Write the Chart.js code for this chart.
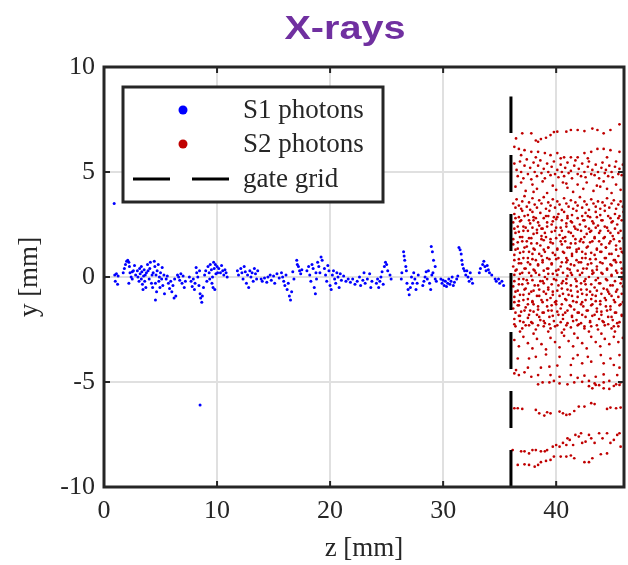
<!DOCTYPE html>
<html>
<head>
<meta charset="utf-8">
<script src="https://cdn.jsdelivr.net/npm/chart.js@4.4.1/dist/chart.umd.min.js"></script>
<style>
  html, body { margin: 0; padding: 0; background: #fff; }
  #wrap { position: relative; width: 628px; height: 565px; }
  #title {
    position: absolute; left: 245px; width: 200px; top: 9px;
    text-align: center; line-height: 1;
    font: bold 33px "Liberation Sans", Arial, sans-serif; color: #7030A0;
    transform: scaleX(1.2);
  }
</style>
</head>
<body>
<div id="wrap">
  <canvas id="chart" width="628" height="565"></canvas>
  <div id="title">X-rays</div>
</div>
<script>
// axis ticks
const xTicks = [0, 10, 20, 30, 40];
const yTicks = [-10, -5, 0, 5, 10];

// S1 photons (z, y)
const s1Points = [
  [0.05,0.0],[0.95,0.1],[1.0,-0.2],[1.1,0.15],[1.2,-0.35],[1.25,0.05],[0.9,3.5],
  [1.7,0.2],[1.8,0.4],[1.9,0.6],[2.0,0.75],[2.1,0.8],[2.2,0.7],[2.25,0.5],[2.3,0.2],[2.4,0.0],[2.5,-0.1],[2.6,0.3],[2.7,0.55],[2.8,0.1],[2.2,-0.3],[2.5,0.25],
  [2.95,0.3],[3.0,0.0],[3.1,-0.2],[3.15,0.4],[3.2,0.15],[3.3,-0.1],[3.35,0.25],[3.4,-0.35],[3.5,0.05],[3.55,0.35],[3.6,-0.2],[3.65,0.1],[3.7,-0.5],[3.75,0.2],[3.3,0.5],[3.45,-0.6],
  [3.85,0.6],[3.9,0.3],[4.0,-0.1],[4.05,0.4],[4.1,0.7],[4.2,-0.3],[4.25,0.1],[4.3,-0.5],[4.35,0.2],
  [4.45,0.75],[4.5,0.5],[4.55,-0.3],[4.6,0.1],[4.55,-1.1],[4.65,-0.7],[4.7,0.3],[4.8,0.6],[4.85,-0.2],[4.9,0.0],[4.95,-0.5],[5.0,0.2],[5.1,-0.1],[5.15,0.45],[5.2,-0.4],[5.3,0.1],[5.35,-0.8],
  [5.5,-0.1],[5.6,0.05],[5.7,-0.3],[5.8,-0.55],[5.9,-0.2],[6.0,-0.7],[6.1,-0.4],[6.2,-1.0],[6.25,-0.1],
  [6.35,-0.9],[6.5,0.1],[6.6,0.0],[6.7,-0.15],[6.8,0.15],[6.9,-0.3],[7.0,0.05],[7.1,-0.5],[7.2,-0.2],
  [7.55,0.0],[7.7,-0.2],[7.8,-0.45],[7.9,-0.1],[8.0,-0.6],[8.05,-0.3],
  [8.15,0.45],[8.2,0.2],[8.3,0.0],[8.4,-0.4],[8.5,-0.8],[8.55,-1.0],[8.65,-1.2],[8.7,-0.9],[8.8,-0.5],[8.45,0.3],[8.5,-6.1],
  [8.9,0.1],[9.0,0.3],[9.1,-0.2],[9.2,0.5],[9.3,0.2],[9.35,-0.1],[9.4,0.6],[9.5,0.35],[9.55,-0.3],[9.6,0.0],[9.7,0.7],[9.75,0.4],[9.8,-0.6],[9.9,0.15],[10.0,0.5],[10.05,0.2],[9.65,-0.5],[9.85,0.6],
  [10.15,0.4],[10.3,0.2],[10.4,0.55],[10.5,0.3],[10.6,0.1],[10.7,0.35],[10.8,0.2],[10.9,0.0],
  [11.8,0.3],[11.9,0.1],[12.1,0.4],[12.2,0.2],[12.3,-0.1],[12.4,0.5],[12.5,0.25],[12.6,-0.3],[12.7,0.1],[12.8,-0.5],[12.9,0.3],[13.0,0.0],[13.1,0.2],[13.2,-0.2],[13.3,0.4],[13.4,0.15],[13.5,-0.1],[13.6,0.3],
  [13.9,-0.1],[14.0,-0.2],[14.2,-0.05],[14.4,-0.25],[14.5,0.0],[14.7,0.1],[14.8,-0.15],[15.0,0.05],[15.1,-0.3],[15.3,0.15],[15.5,-0.05],
  [15.7,0.2],[15.8,0.0],[15.9,-0.2],[16.0,-0.4],[16.1,0.1],[16.2,-0.6],[16.3,-0.3],[16.4,-0.9],[16.5,-1.1],[16.6,-0.7],[16.7,0.25],[16.8,-0.1],
  [17.05,0.8],[17.1,0.6],[17.2,0.5],[17.3,0.3],[17.4,0.15],[17.5,0.35],
  [17.95,0.3],[18.1,0.5],[18.2,0.1],[18.3,-0.2],[18.4,0.6],[18.5,0.4],[18.6,-0.5],[18.7,-0.8],[18.75,0.2],[18.9,0.7],[19.0,0.5],[19.1,0.2],[19.2,0.95],[19.3,0.8],[18.8,-0.1],
  [19.5,0.4],[19.6,0.1],[19.7,-0.2],[19.8,0.55],[19.9,0.3],[20.0,-0.4],[20.1,-0.6],[20.2,0.1],[20.3,0.3],[20.4,-0.1],[20.5,-0.3],[20.6,0.2],[20.7,0.0],[20.8,-0.5],[20.9,0.15],[21.0,-0.15],[21.2,0.05],[21.4,-0.2],
  [21.6,-0.1],[21.8,-0.25],[22.0,-0.1],[22.2,-0.35],[22.4,-0.2],[22.6,0.0],[22.7,-0.4],[22.9,-0.15],[23.0,0.2],[23.1,-0.3],[23.3,-0.1],[23.5,0.15],[23.6,-0.5],[23.7,-0.2],
  [24.1,-0.3],[24.2,-0.1],[24.3,-0.5],[24.4,-0.2],[24.5,0.0],[24.6,0.25],[24.7,-0.35],[24.8,0.5],[24.9,0.7],[25.0,0.6],[25.1,0.3],[25.3,0.1],[25.4,-0.1],
  [26.3,-0.1],[26.35,0.2],[26.5,1.2],[26.55,1.0],[26.6,0.8],[26.7,0.5],[26.75,0.3],[26.8,-0.3],[26.9,-0.6],[27.0,-0.85],[27.1,-0.5],[27.2,0.0],[27.3,-0.3],[27.4,0.2],[27.5,-0.1],[27.6,-0.6],[27.7,-0.3],[27.8,0.1],
  [28.2,-0.4],[28.3,-0.2],[28.4,0.0],[28.5,0.25],[28.6,-0.1],[28.7,0.3],[28.8,-0.3],[28.9,-0.6],[29.0,0.1],[29.1,0.2],[29.3,-0.1],[29.4,-0.2],
  [28.95,1.45],[29.05,1.2],[29.15,0.8],[29.3,0.5],
  [29.8,-0.1],[29.9,-0.3],[30.0,-0.15],[30.1,-0.4],[30.2,-0.2],[30.3,-0.45],[30.4,-0.3],[30.5,-0.1],[30.6,-0.35],[30.7,-0.2],[30.8,0.0],[30.9,-0.4],[31.0,-0.25],[31.2,-0.1],[31.3,0.05],
  [31.4,1.4],[31.5,1.3],[31.6,1.1],[31.65,0.8],[31.7,0.6],[31.8,0.4],[31.9,0.3],[32.0,0.1],[32.1,0.3],[32.2,0.0],[32.3,-0.2],[32.4,0.2],[32.5,-0.1],[32.6,-0.3],
  [33.2,0.2],[33.3,0.4],[33.5,0.6],[33.6,0.75],[33.7,0.5],[33.8,0.3],[33.9,0.55],[34.0,0.35],[34.1,0.2],[34.3,0.1],
  [34.6,-0.1],[34.7,-0.2],[34.9,-0.1],[35.0,-0.3],[35.2,-0.2],[35.35,-0.4]
];

// S2 photons, by band from top to bottom
const s2Top = [
  [36.45,6.6],[37.0,6.84],[37.8,6.84],[38.2,6.5],[38.4,6.44],[38.65,6.57],[39.1,6.63],[39.5,6.76],[39.8,6.9],[40.1,6.92],[40.9,6.92],[41.3,7.0],[41.9,7.0],[42.5,6.95],[43.2,7.07],[43.65,7.0],[44.2,6.84],[44.8,7.0],[45.6,7.27]
];
const s2Band6 = [
  [36.3,6.2],[36.7,6.1],[36.9,5.8],[37.2,6.04],[37.8,5.96],[38.2,5.7],[38.4,5.96],[39.0,5.9],[39.5,5.8],[40.1,5.9],[40.4,5.65],[40.7,5.7],[41.3,5.7],[41.9,5.7],[42.5,5.9],[42.8,5.65],[43.1,5.96],[43.65,6.1],[44.2,6.1],[44.5,5.7],[44.8,6.04],[45.6,5.96]
];
const s2Band5 = [
  [36.3,5.4],[36.5,5.1],[36.6,4.8],[36.8,5.5],[36.9,5.0],[37.1,4.7],[37.2,5.3],[37.4,5.6],[37.5,4.9],[37.7,5.2],[37.8,4.65],[38.0,5.45],[38.1,5.0],[38.3,4.8],[38.4,5.3],[38.6,5.55],[38.7,4.95],[38.9,5.15],[39.0,4.7],[39.2,5.4],[39.3,5.0],[39.5,4.85],[39.6,5.25],[39.8,5.5],[39.9,4.9],[40.1,5.1],[40.2,4.75],[40.4,5.35],[40.5,5.0],[40.7,4.8],[40.8,5.2],[41.0,5.45],[41.1,4.95],[41.3,5.05],[41.4,4.7],[41.6,5.3],[41.7,5.55],[41.9,4.9],[42.0,5.15],[42.2,4.8],[42.3,5.4],[42.5,5.0],[42.6,4.75],[42.8,5.25],[42.9,5.5],[43.1,4.9],[43.2,5.1],[43.4,4.85],[43.5,5.35],[43.7,5.0],[43.8,4.7],[44.0,5.2],[44.1,5.45],[44.3,4.95],[44.4,5.1],[44.6,4.8],[44.7,5.3],[44.9,5.0],[45.0,4.75],[45.2,5.25],[45.3,5.5],[45.5,4.9],[45.6,5.15],[45.8,4.85],[45.9,5.35]
];
const s2Band4 = [
  [36.4,4.3],[36.9,4.5],[37.3,4.1],[37.9,4.4],[38.3,4.2],[38.8,4.55],[39.2,4.0],[39.7,4.35],[40.0,4.15],[40.6,4.5],[41.0,4.25],[41.5,4.05],[41.9,4.4],[42.4,4.2],[42.7,4.5],[43.3,4.1],[43.6,4.35],[44.2,4.55],[44.5,4.2],[44.9,4.0],[45.3,4.4],[45.7,4.15],[38.0,4.05],[40.9,4.45],[43.9,4.3]
];
const s2Band3 = [
  [36.2,3.5],[36.4,3.3],[36.5,3.7],[36.7,3.4],[36.9,3.25],[37.0,3.6],[37.2,3.85],[37.4,3.35],[37.6,3.55],[37.7,3.2],[37.9,3.75],[38.1,3.45],[38.3,3.3],[38.5,3.65],[38.7,3.5],[38.9,3.8],[39.1,3.25],[39.3,3.55],[39.5,3.4],[39.7,3.7],[39.9,3.3],[40.1,3.6],[40.3,3.45],[40.5,3.2],[40.7,3.75],[40.9,3.5],[41.1,3.35],[41.3,3.65],[41.5,3.25],[41.7,3.55],[41.9,3.4],[42.1,3.8],[42.3,3.3],[42.5,3.6],[42.7,3.45],[42.9,3.2],[43.1,3.7],[43.3,3.5],[43.5,3.35],[43.7,3.6],[43.9,3.25],[44.1,3.55],[44.3,3.4],[44.5,3.75],[44.7,3.3],[44.9,3.5],[45.1,3.65],[45.3,3.25],[45.5,3.45],[45.7,3.6],[45.9,3.35]
];
const s2Core = [
  [36.3,3.0],[36.7,2.85],[37.0,3.15],[37.5,2.95],[37.9,3.1],[38.2,2.8],[38.6,3.05],[39.1,2.9],[39.4,3.15],[39.8,2.85],[40.2,3.0],[40.7,3.1],[41.0,2.8],[41.4,2.95],[41.8,3.15],[42.3,2.9],[42.6,3.05],[43.0,2.85],[43.5,3.1],[43.9,2.95],[44.3,3.15],[44.8,2.8],[45.2,3.0],[45.6,2.9],[45.95,3.1],
  [36.4,2.8],[36.8,2.65],[37.2,2.9],[37.6,2.7],[38.0,2.85],[38.4,2.6],[38.9,2.8],[39.3,2.9],[39.7,2.65],[40.1,2.85],[40.5,2.7],[41.0,2.9],[41.4,2.6],[41.9,2.8],[42.4,2.7],[42.8,2.9],[43.2,2.65],[43.6,2.85],[44.1,2.7],[44.6,2.9],[45.0,2.65],[45.5,2.8],
  [36.2,2.6],[36.6,2.4],[36.9,2.7],[37.3,2.35],[37.7,2.55],[38.0,2.7],[38.5,2.45],[38.8,2.3],[39.2,2.6],[39.6,2.5],[40.0,2.75],[40.4,2.35],[40.9,2.55],[41.3,2.65],[41.6,2.4],[42.1,2.5],[42.5,2.7],[42.9,2.3],[43.3,2.55],[43.7,2.45],[44.0,2.7],[44.5,2.35],[44.9,2.6],[45.4,2.5],[45.8,2.7],
  [36.3,2.3],[36.7,2.15],[37.1,2.4],[37.5,2.2],[37.9,2.35],[38.3,2.1],[38.7,2.3],[39.2,2.4],[39.6,2.15],[40.0,2.35],[40.5,2.2],[40.9,2.4],[41.3,2.1],[41.7,2.3],[42.2,2.2],[42.6,2.4],[43.0,2.15],[43.5,2.35],[43.9,2.2],[44.3,2.4],[44.8,2.1],[45.2,2.3],[45.7,2.2],
  [36.4,2.1],[36.8,1.9],[37.1,2.2],[37.6,1.85],[38.0,2.05],[38.3,2.25],[38.7,1.95],[39.0,2.1],[39.5,1.8],[39.9,2.2],[40.3,2.0],[40.6,1.85],[41.1,2.15],[41.5,1.95],[41.9,2.25],[42.2,1.8],[42.7,2.05],[43.1,2.2],[43.4,1.9],[43.8,2.1],[44.2,1.85],[44.6,2.2],[45.0,1.95],[45.5,2.1],[45.9,1.85],
  [36.2,1.8],[36.6,1.65],[37.0,1.9],[37.4,1.7],[37.8,1.85],[38.3,1.6],[38.7,1.8],[39.1,1.9],[39.5,1.65],[40.0,1.85],[40.4,1.7],[40.8,1.9],[41.3,1.6],[41.7,1.8],[42.1,1.7],[42.5,1.9],[43.0,1.65],[43.4,1.85],[43.8,1.7],[44.3,1.9],[44.7,1.6],[45.1,1.8],[45.6,1.7],
  [36.2,1.55],[36.6,1.35],[37.0,1.7],[37.4,1.45],[37.8,1.6],[38.1,1.3],[38.6,1.5],[38.9,1.75],[39.3,1.4],[39.7,1.6],[40.1,1.3],[40.5,1.55],[40.8,1.7],[41.2,1.4],[41.7,1.6],[42.0,1.35],[42.4,1.65],[42.8,1.45],[43.2,1.7],[43.6,1.3],[44.0,1.55],[44.4,1.4],[44.8,1.7],[45.3,1.5],[45.7,1.35],
  [36.4,1.3],[36.8,1.15],[37.2,1.4],[37.6,1.2],[38.0,1.35],[38.5,1.1],[38.9,1.3],[39.3,1.4],[39.7,1.15],[40.1,1.35],[40.6,1.2],[41.0,1.4],[41.4,1.1],[41.8,1.3],[42.3,1.2],[42.7,1.4],[43.1,1.15],[43.6,1.35],[44.0,1.2],[44.4,1.4],[44.9,1.1],[45.3,1.3],[45.8,1.2],
  [36.3,1.05],[36.7,0.85],[37.1,1.2],[37.5,0.9],[37.9,1.1],[38.2,0.8],[38.7,1.0],[39.0,1.2],[39.4,0.85],[39.9,1.05],[40.2,0.9],[40.7,1.15],[41.0,0.8],[41.4,1.0],[41.8,1.2],[42.3,0.9],[42.6,1.1],[43.0,0.85],[43.4,1.05],[43.9,1.2],[44.3,0.9],[44.7,1.1],[45.1,0.8],[45.5,1.0],[45.9,1.15],
  [36.3,0.8],[36.7,0.65],[37.1,0.9],[37.5,0.7],[37.9,0.85],[38.4,0.6],[38.8,0.8],[39.2,0.9],[39.6,0.65],[40.0,0.85],[40.5,0.7],[40.9,0.9],[41.3,0.6],[41.8,0.8],[42.2,0.7],[42.6,0.9],[43.1,0.65],[43.5,0.85],[43.9,0.7],[44.4,0.9],[44.8,0.6],[45.2,0.8],[45.7,0.7],
  [36.2,0.5],[36.5,0.35],[36.9,0.65],[37.3,0.4],[37.7,0.6],[38.1,0.3],[38.4,0.55],[38.8,0.7],[39.2,0.4],[39.6,0.6],[40.0,0.3],[40.4,0.5],[40.9,0.7],[41.2,0.35],[41.6,0.55],[42.0,0.7],[42.4,0.4],[42.8,0.6],[43.2,0.3],[43.6,0.5],[44.1,0.65],[44.5,0.35],[44.9,0.55],[45.3,0.7],[45.8,0.4],
  [36.4,0.3],[36.8,0.15],[37.2,0.4],[37.6,0.2],[38.0,0.35],[38.5,0.1],[38.9,0.3],[39.3,0.4],[39.7,0.15],[40.2,0.35],[40.6,0.2],[41.0,0.4],[41.4,0.1],[41.9,0.3],[42.3,0.2],[42.7,0.4],[43.2,0.15],[43.6,0.35],[44.0,0.2],[44.5,0.4],[44.9,0.1],[45.3,0.3],[45.8,0.2],
  [36.3,0.1],[36.7,-0.1],[37.0,0.2],[37.4,-0.15],[37.8,0.05],[38.2,0.2],[38.6,-0.2],[39.0,0.0],[39.3,0.15],[39.8,-0.1],[40.1,0.1],[40.6,-0.2],[41.0,0.05],[41.3,0.2],[41.7,-0.1],[42.1,0.1],[42.5,-0.2],[42.9,0.0],[43.3,0.2],[43.7,-0.05],[44.1,0.15],[44.5,-0.15],[44.9,0.05],[45.4,0.2],[45.8,-0.1],
  [36.3,-0.2],[36.7,-0.35],[37.1,-0.1],[37.5,-0.3],[37.9,-0.15],[38.4,-0.4],[38.8,-0.2],[39.2,-0.1],[39.6,-0.35],[40.0,-0.15],[40.5,-0.3],[40.9,-0.1],[41.3,-0.4],[41.8,-0.2],[42.2,-0.3],[42.6,-0.1],[43.1,-0.35],[43.5,-0.15],[43.9,-0.3],[44.4,-0.1],[44.8,-0.4],[45.2,-0.2],[45.7,-0.3],
  [36.2,-0.45],[36.6,-0.65],[37.0,-0.35],[37.3,-0.55],[37.8,-0.7],[38.1,-0.4],[38.5,-0.6],[38.9,-0.3],[39.3,-0.5],[39.7,-0.7],[40.2,-0.4],[40.5,-0.55],[40.9,-0.3],[41.3,-0.65],[41.8,-0.45],[42.2,-0.6],[42.6,-0.35],[43.0,-0.7],[43.4,-0.5],[43.8,-0.3],[44.2,-0.55],[44.6,-0.7],[45.0,-0.4],[45.4,-0.6],[45.9,-0.45],
  [36.4,-0.7],[36.8,-0.85],[37.2,-0.6],[37.6,-0.8],[38.0,-0.65],[38.5,-0.9],[38.9,-0.7],[39.3,-0.6],[39.7,-0.85],[40.1,-0.65],[40.6,-0.8],[41.0,-0.6],[41.4,-0.9],[41.9,-0.7],[42.3,-0.8],[42.7,-0.6],[43.2,-0.85],[43.6,-0.65],[44.0,-0.8],[44.5,-0.6],[44.9,-0.9],[45.3,-0.7],[45.8,-0.8],
  [36.3,-0.95],[36.7,-1.15],[37.1,-0.85],[37.5,-1.05],[37.9,-1.2],[38.3,-0.9],[38.7,-1.1],[39.1,-0.8],[39.5,-1.0],[39.9,-1.2],[40.3,-0.9],[40.8,-1.05],[41.1,-0.85],[41.5,-1.15],[41.9,-0.95],[42.3,-1.2],[42.7,-0.85],[43.1,-1.05],[43.5,-0.9],[43.9,-1.15],[44.3,-1.0],[44.7,-0.8],[45.1,-1.1],[45.5,-0.95],[45.9,-1.2],
  [36.3,-1.2],[36.7,-1.35],[37.1,-1.1],[37.5,-1.3],[37.9,-1.15],[38.4,-1.4],[38.8,-1.2],[39.2,-1.1],[39.6,-1.35],[40.0,-1.15],[40.5,-1.3],[40.9,-1.1],[41.3,-1.4],[41.8,-1.2],[42.2,-1.3],[42.6,-1.1],[43.1,-1.35],[43.5,-1.15],[43.9,-1.3],[44.4,-1.1],[44.8,-1.4],[45.2,-1.2],[45.7,-1.3],
  [36.2,-1.5],[36.6,-1.35],[36.9,-1.65],[37.3,-1.45],[37.7,-1.6],[38.0,-1.3],[38.4,-1.55],[38.8,-1.7],[39.2,-1.4],[39.6,-1.6],[40.0,-1.3],[40.4,-1.5],[40.8,-1.7],[41.2,-1.35],[41.6,-1.55],[42.0,-1.7],[42.4,-1.4],[42.8,-1.6],[43.2,-1.3],[43.6,-1.5],[44.0,-1.65],[44.4,-1.4],[44.8,-1.55],[45.2,-1.7],[45.6,-1.35],
  [36.4,-1.7],[36.8,-1.85],[37.2,-1.6],[37.6,-1.8],[38.0,-1.65],[38.5,-1.9],[38.9,-1.7],[39.3,-1.6],[39.7,-1.85],[40.1,-1.65],[40.6,-1.8],[41.0,-1.6],[41.4,-1.9],[41.9,-1.7],[42.3,-1.8],[42.7,-1.6],[43.2,-1.85],[43.6,-1.65],[44.0,-1.8],[44.5,-1.6],[44.9,-1.9],[45.3,-1.7],[45.8,-1.8],
  [36.3,-2.0],[36.7,-1.85],[37.1,-2.15],[37.5,-1.95],[37.9,-2.2],[38.3,-1.8],[38.6,-2.05],[39.0,-2.2],[39.4,-1.9],[39.8,-2.1],[40.2,-1.8],[40.6,-2.0],[41.0,-2.2],[41.4,-1.85],[41.8,-2.05],[42.2,-2.2],[42.6,-1.9],[43.0,-2.1],[43.4,-1.8],[43.8,-2.0],[44.2,-2.15],[44.6,-1.9],[45.0,-2.05],[45.4,-2.2],[45.8,-1.85],
  [36.3,-2.25],[36.8,-2.1],[37.3,-2.3],[37.8,-2.15],[38.4,-2.3],[38.9,-2.1],[39.4,-2.25],[39.9,-2.35],[40.4,-2.15],[40.9,-2.3],[41.5,-2.1],[42.0,-2.25],[42.5,-2.35],[43.0,-2.15],[43.6,-2.3],[44.1,-2.1],[44.6,-2.25],[45.1,-2.35],[45.6,-2.15],
  [36.4,-2.35],[37.0,-2.45],[37.6,-2.3],[38.2,-2.5],[38.9,-2.35],[39.5,-2.45],[40.1,-2.3],[40.7,-2.5],[41.3,-2.4],[41.9,-2.3],[42.5,-2.45],[43.1,-2.35],[43.7,-2.5],[44.3,-2.3],[44.9,-2.45],[45.5,-2.35]
];
const s2Band2 = [
  [36.8,-2.6],[38.0,-2.7],[39.3,-2.6],[40.5,-2.65],[41.6,-2.7],[42.9,-2.6],[44.0,-2.7],[45.2,-2.6],
  [36.3,-3.0],[36.7,-3.3],[37.1,-2.85],[37.5,-3.15],[37.9,-3.4],[38.3,-2.95],[38.7,-3.2],[39.1,-3.45],[39.5,-2.9],[39.9,-3.1],[40.3,-3.35],[40.7,-2.8],[41.1,-3.05],[41.5,-3.3],[41.9,-2.9],[42.3,-3.15],[42.7,-3.4],[43.1,-2.85],[43.5,-3.1],[43.9,-3.3],[44.3,-2.95],[44.7,-3.2],[45.1,-2.85],[45.5,-3.1],[45.9,-2.9]
];
const s2Band1 = [
  [36.6,-3.88],[37.6,-3.88],[38.2,-3.8],[39.1,-3.69],[40.3,-3.8],[41.5,-3.88],[41.9,-3.72],[42.8,-3.8],[43.95,-3.72],[44.8,-3.88],[45.6,-3.72],
  [36.45,-4.43],[37.5,-4.32],[38.65,-4.32],[39.4,-4.27],[40.1,-4.22],[41.3,-4.19],[42.3,-4.11],[43.1,-4.03],[44.2,-4.11],[45.1,-4.19],[45.6,-4.32],
  [36.3,-4.59],[36.7,-4.67],[37.2,-4.54],[37.8,-4.75],[38.4,-4.67],[39.5,-4.67],[40.3,-4.75],[41.3,-4.67],[41.9,-4.8],[42.5,-4.7],[43.5,-4.75],[44.2,-4.64],[45.4,-4.67],
  [38.4,-5.11],[38.8,-5.02],[39.4,-5.02],[39.8,-4.95],[40.3,-5.07],[41.0,-5.11],[41.6,-5.02],[42.3,-4.99],[42.9,-4.95],[43.4,-5.07],[43.8,-5.15],[44.2,-5.02],[44.7,-4.95],[45.3,-5.11],[45.7,-5.02],[43.2,-5.3],[44.2,-5.3],
  [42.9,-5.2],[43.5,-5.14],[44.7,-5.33],[45.1,-5.19],[45.6,-5.14]
];
const s2Band0 = [
  [36.3,-6.25],[36.6,-6.25],[37.0,-6.28],[38.2,-6.33],[38.5,-6.49],[38.95,-6.6],[39.2,-6.44],[39.5,-6.49],[40.3,-6.41],[40.6,-6.49],[40.9,-6.57],[41.2,-6.54],[41.6,-6.38],[42.0,-6.17],[42.5,-6.17],[43.1,-6.01],[43.4,-6.05],[44.5,-6.28],[44.8,-6.22],[45.3,-6.25],[45.7,-6.22],
  [36.15,-8.24],[36.9,-8.3],[37.2,-8.3],[37.6,-8.4],[37.9,-8.24],[38.2,-8.24],[38.65,-8.3],[39.0,-8.3],[39.2,-8.24],[39.7,-8.08],[40.0,-8.0],[40.3,-8.08],[40.6,-7.9],[40.9,-8.0],[41.0,-7.68],[41.2,-7.76],[41.5,-8.0],[41.7,-7.52],[42.0,-7.6],[42.2,-7.44],[42.3,-7.9],[42.6,-7.84],[42.9,-7.52],[43.1,-7.68],[43.4,-7.9],[43.8,-7.44],[44.1,-7.68],[44.5,-7.44],[44.8,-7.9],[45.1,-7.76],[45.4,-7.52],[45.6,-7.44],[45.7,-8.08],
  [36.6,-8.95],[37.2,-8.92],[37.6,-8.95],[38.1,-9.03],[38.4,-8.95],[38.65,-8.82],[39.1,-8.76],[39.5,-8.71],[39.8,-8.55],[40.4,-8.55],[40.9,-8.55],[41.3,-8.5],[41.6,-8.63],[42.5,-8.82],[42.9,-8.82],[43.2,-8.63],[43.95,-8.44],[44.5,-8.4]
];

// gate grid position
const gateZ = 36;
const gateY = [-10, 8.6];

const toXY = arr => arr.map(p => ({ x: p[0], y: p[1] }));
const s2Points = [].concat(s2Top, s2Band6, s2Band5, s2Band4, s2Band3, s2Core, s2Band2, s2Band1, s2Band0);

const axisColor = '#262626';
const serif = '"Liberation Serif", "Times New Roman", serif';

// box, inward ticks and legend drawn like the original figure
const framePlugin = {
  id: 'frame',
  afterDraw(chart) {
    const { ctx, chartArea: a, scales: { x, y } } = chart;
    ctx.save();
    ctx.strokeStyle = axisColor;
    ctx.lineWidth = 2;
    ctx.beginPath();
    xTicks.forEach(v => {
      const px = x.getPixelForValue(v);
      ctx.moveTo(px, a.bottom); ctx.lineTo(px, a.bottom - 6);
      ctx.moveTo(px, a.top); ctx.lineTo(px, a.top + 6);
    });
    yTicks.forEach(v => {
      const py = y.getPixelForValue(v);
      ctx.moveTo(a.left, py); ctx.lineTo(a.left + 6, py);
      ctx.moveTo(a.right, py); ctx.lineTo(a.right - 6, py);
    });
    ctx.stroke();
    ctx.lineWidth = 3;
    ctx.strokeRect(a.left, a.top, a.right - a.left, a.bottom - a.top);

    // legend
    const ds = chart.data.datasets;
    const box = { l: 123, t: 87, w: 260, h: 115 };
    ctx.fillStyle = '#fff';
    ctx.fillRect(box.l, box.t, box.w, box.h);
    ctx.lineWidth = 3;
    ctx.strokeRect(box.l, box.t, box.w, box.h);
    const rows = [110, 144, 179];
    ctx.font = '27px ' + serif;
    ctx.textBaseline = 'middle';
    ctx.textAlign = 'left';
    ds.forEach((d, i) => {
      const ry = rows[i];
      if (d.showLine) {
        ctx.strokeStyle = d.borderColor;
        ctx.lineWidth = 3;
        ctx.setLineDash(d.borderDash);
        ctx.beginPath();
        ctx.moveTo(133, ry); ctx.lineTo(229, ry);
        ctx.stroke();
        ctx.setLineDash([]);
      } else {
        ctx.fillStyle = d.backgroundColor;
        ctx.beginPath();
        ctx.arc(183, ry, 4.5, 0, Math.PI * 2);
        ctx.fill();
      }
      ctx.fillStyle = axisColor;
      ctx.fillText(d.label, 243, ry + 1);
    });
    ctx.restore();
  }
};

new Chart(document.getElementById('chart').getContext('2d'), {
  type: 'scatter',
  data: {
    datasets: [
      {
        label: 'S1 photons',
        data: toXY(s1Points),
        backgroundColor: '#0000ff',
        pointRadius: 1.5,
        pointBorderWidth: 0
      },
      {
        label: 'S2 photons',
        data: toXY(s2Points),
        backgroundColor: '#c00000',
        pointRadius: 1.35,
        pointBorderWidth: 0
      },
      {
        label: 'gate grid',
        data: gateY.map(v => ({ x: gateZ, y: v })),
        showLine: true,
        borderColor: '#000',
        borderWidth: 3,
        borderDash: [37, 22],
        pointRadius: 0,
        order: -1
      }
    ]
  },
  options: {
    responsive: false,
    animation: false,
    layout: { padding: { top: 67, right: 1, left: 0, bottom: 0 } },
    plugins: { legend: { display: false }, tooltip: { enabled: false } },
    scales: {
      x: {
        type: 'linear',
        min: 0,
        max: 46,
        afterBuildTicks: s => { s.ticks = xTicks.map(v => ({ value: v })); },
        afterFit: s => { s.height = 78; },
        grid: { color: '#e0e0e0', lineWidth: 2, drawTicks: false },
        border: { display: false },
        ticks: { color: axisColor, font: { family: serif, size: 26 }, padding: 9, maxRotation: 0 },
        title: { display: true, text: 'z [mm]', color: axisColor, font: { family: serif, size: 27 }, padding: { top: 0, bottom: 0 } }
      },
      y: {
        type: 'linear',
        min: -10,
        max: 10,
        afterBuildTicks: s => { s.ticks = yTicks.map(v => ({ value: v })); },
        afterFit: s => { s.width = 104; },
        grid: { color: '#e0e0e0', lineWidth: 2, drawTicks: false },
        border: { display: false },
        ticks: { color: axisColor, font: { family: serif, size: 26 }, padding: 9 },
        title: { display: true, text: 'y [mm]', color: axisColor, font: { family: serif, size: 27 }, padding: { top: 14, bottom: 0 } }
      }
    }
  },
  plugins: [framePlugin]
});
</script>
</body>
</html>
